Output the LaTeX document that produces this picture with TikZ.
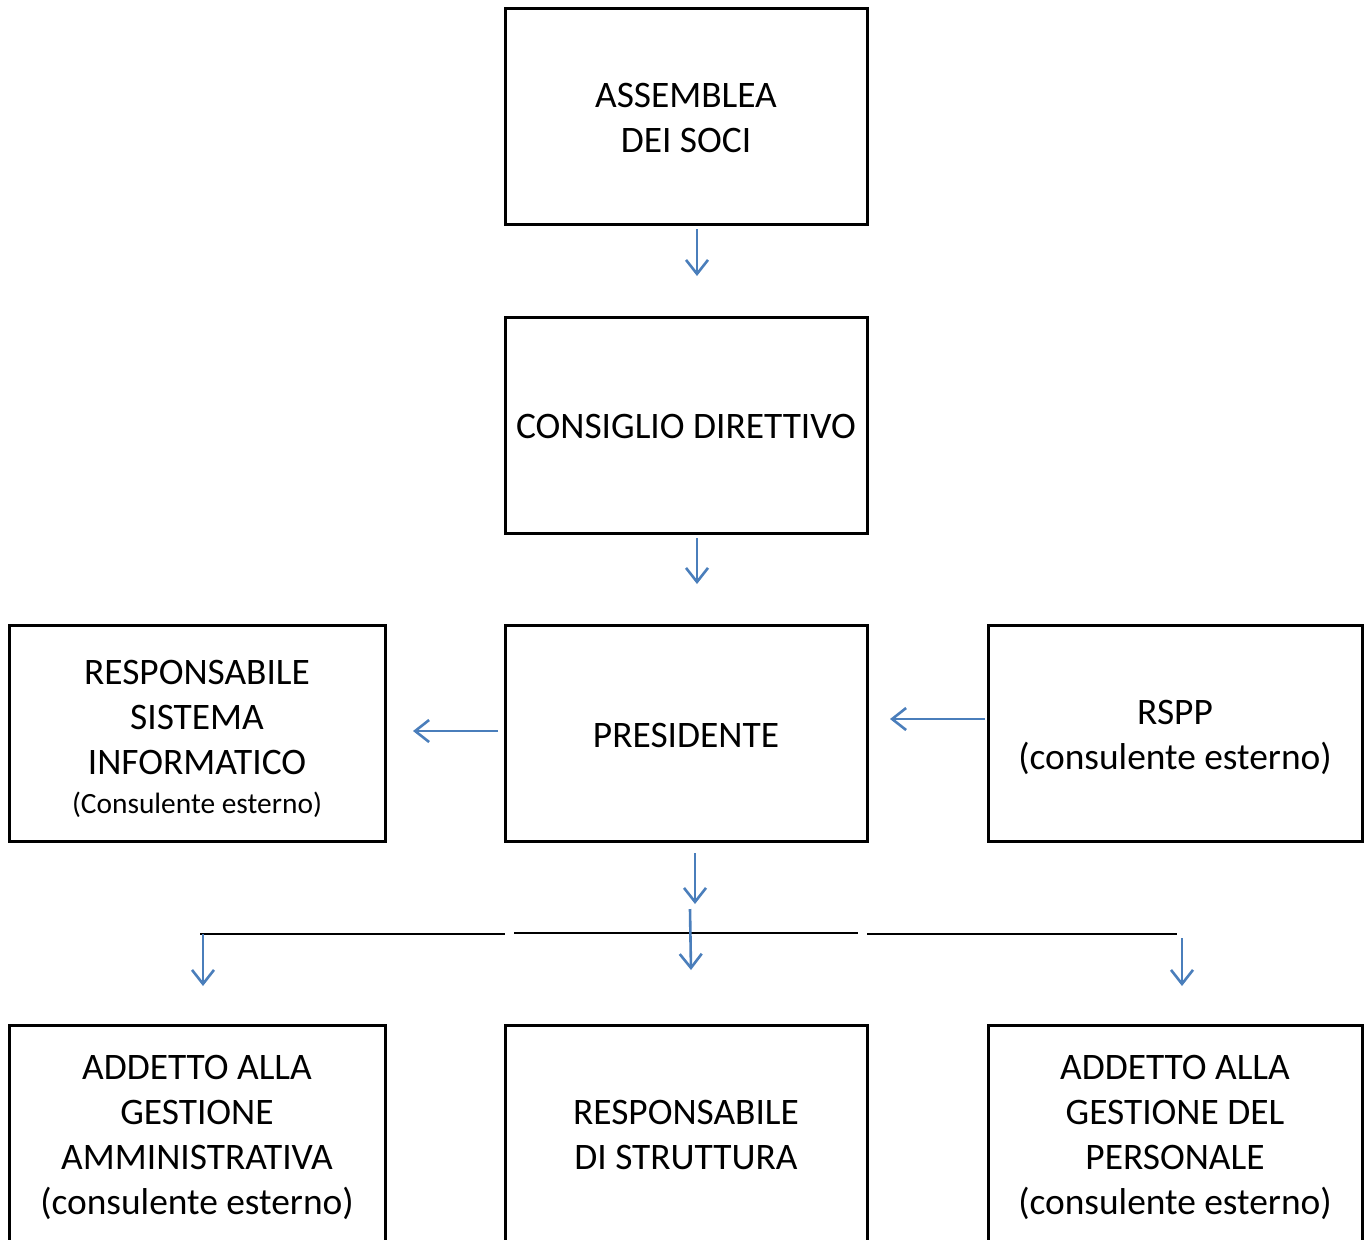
\documentclass[tikz,border=0pt]{standalone}
\usepackage{fontspec}
\setmainfont{Carlito}
\usetikzlibrary{arrows.meta}
\definecolor{arrblue}{HTML}{4A7EBB}
\tikzset{
  box/.style={draw=black, line width=1.5pt, minimum width=#1, minimum height=108pt, inner sep=0pt, align=center,
    font=\fontsize{18.7}{22.5}\selectfont},
  box/.default=181pt,
  conn/.style={draw=arrblue, line width=1.3pt, -{Straight Barb[length=7pt,width=11pt,line width=1.3pt]}},
  bar/.style={draw=black, line width=1.1pt}
}
\newcommand{\smalltxt}[1]{{\fontsize{14.7}{20}\selectfont #1}}
\newcommand{\dn}[1]{\setbox0\hbox{A}\rule{0pt}{\dimexpr\ht0+#1\relax}}
\begin{document}
\begin{tikzpicture}[x=0.5pt,y=-0.5pt]
\useasboundingbox (0,0) rectangle (1366,1239);
\clip (0,0) rectangle (1366,1239);
\node[box] (ass) at (686,116) {\dn{2pt}ASSEMBLEA\\DEI SOCI};
\node[box] (cons) at (686,425) {\dn{2pt}CONSIGLIO DIRETTIVO};
\node[box] (pres) at (686,733.5) {\dn{2pt}PRESIDENTE};
\node[box=188pt] (rsi) at (197,733.5) {\dn{5.5pt}RESPONSABILE\\SISTEMA\\INFORMATICO\\[-3pt]\smalltxt{(Consulente esterno)}};
\node[box=187pt] (rspp) at (1175,733.5) {\dn{4pt}RSPP\\(consulente esterno)};
\node[box=188pt,minimum height=110pt] (amm) at (197,1135) {\dn{2.5pt}ADDETTO ALLA\\GESTIONE\\AMMINISTRATIVA\\(consulente esterno)};
\node[box,minimum height=110pt] (strut) at (686,1135) {RESPONSABILE\\DI STRUTTURA};
\node[box=187pt,minimum height=110pt] (pers) at (1175,1135) {\dn{2.5pt}ADDETTO ALLA\\GESTIONE DEL\\PERSONALE\\(consulente esterno)};
% arrow coordinates
\coordinate (a1s) at (697,229); \coordinate (a1e) at (697,276);
\coordinate (a2s) at (697,538); \coordinate (a2e) at (697,584);
\coordinate (a3s) at (498,731); \coordinate (a3e) at (413,731);
\coordinate (a4s) at (985,719); \coordinate (a4e) at (890,719);
\coordinate (a5s) at (695,853); \coordinate (a5e) at (695,904);
\coordinate (a6s) at (690,909); \coordinate (a6e) at (691,970);
\coordinate (a7s) at (203,934); \coordinate (a7e) at (203,986);
\coordinate (a8s) at (1182,938); \coordinate (a8e) at (1182,986);
\coordinate (b1s) at (200,934); \coordinate (b1e) at (505,934);
\coordinate (b2s) at (514,933); \coordinate (b2e) at (858,933);
\coordinate (b3s) at (867,934); \coordinate (b3e) at (1177,934);
\draw[bar] (b1s) -- (b1e);
\draw[bar] (b2s) -- (b2e);
\draw[bar] (b3s) -- (b3e);
\draw[conn] (a1s) -- (a1e);
\draw[conn] (a2s) -- (a2e);
\draw[conn] (a3s) -- (a3e);
\draw[conn] (a4s) -- (a4e);
\draw[conn] (a5s) -- (a5e);
\draw[conn] (a6s) -- (a6e);
\draw[conn] (a7s) -- (a7e);
\draw[conn] (a8s) -- (a8e);
\end{tikzpicture}
\end{document}
